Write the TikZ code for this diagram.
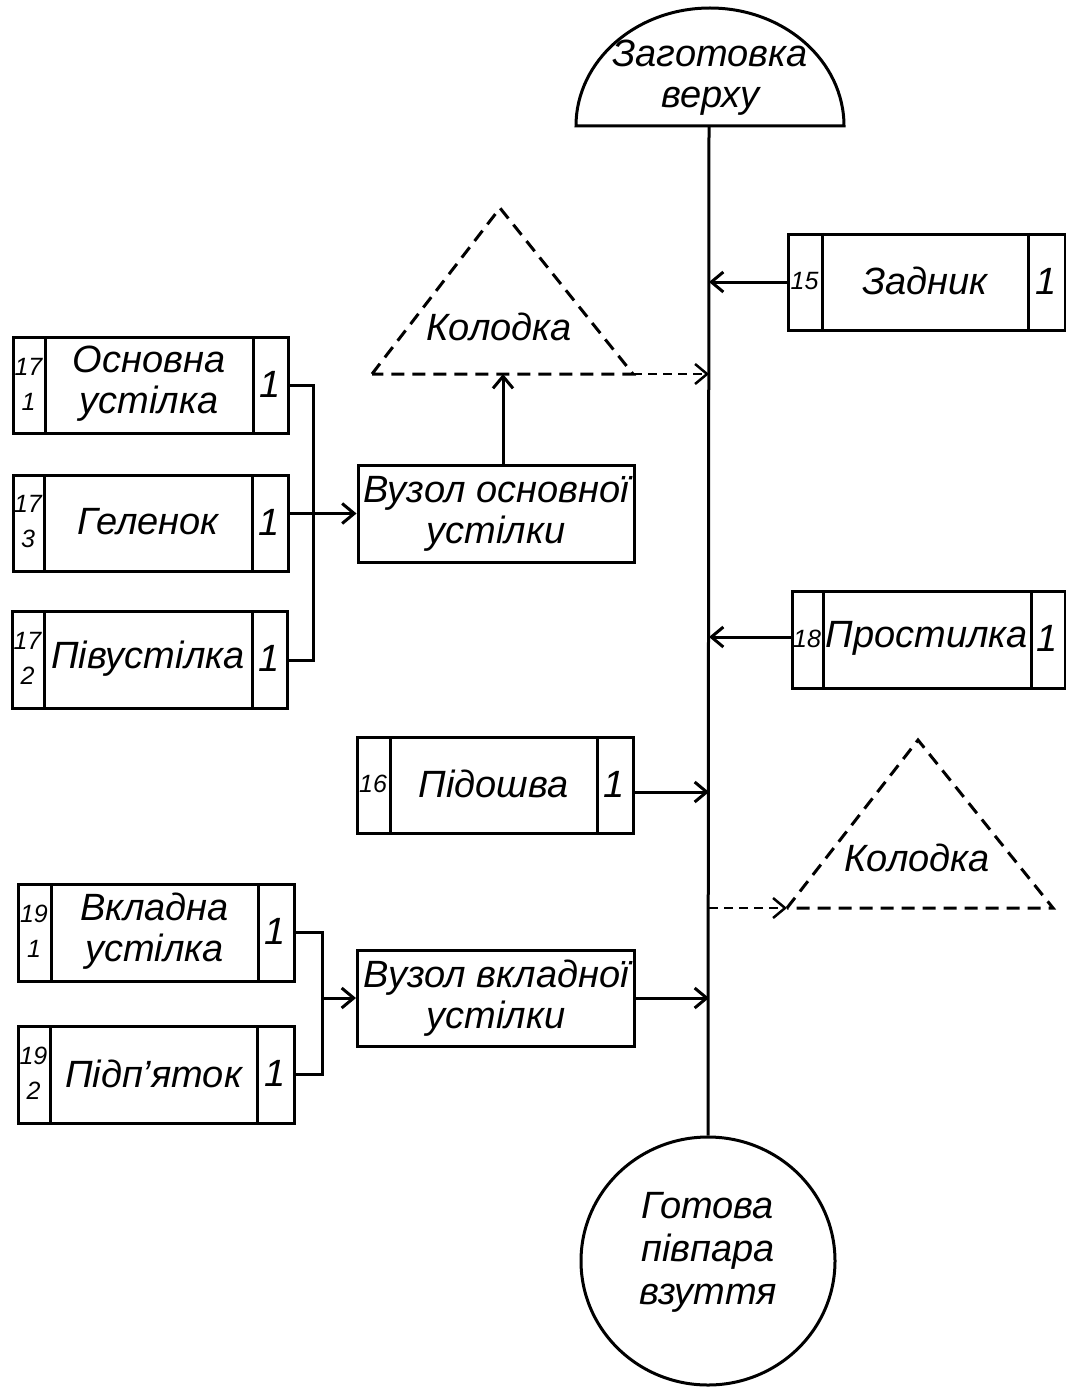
\documentclass[tikz,border=0pt]{standalone}
\usepackage{fontspec}
\setmainfont{Liberation Sans}
\usetikzlibrary{arrows.meta,shapes.geometric}
\newcommand\partbox[9]{%
  \pgfmathsetmacro\pbW{#4-#2}\pgfmathsetmacro\pbH{#5-#3}%
  \node[pbox, minimum width=\pbW pt, minimum height=\pbH pt, anchor=north west] (#1) at (#2,#3) {};
  \draw[ln] (#6,#3) -- (#6,#5) (#7,#3) -- (#7,#5);
  \node[numtxt] (#1-n) at ({(#2+#6)/2},{(#3+#5)/2}) {#8};
  \node[maintxt] (#1-t) at ({(#6+#7)/2},{(#3+#5)/2}) {#9};
  \node[onetxt] (#1-q) at ({(#7+#4)/2},{(#3+#5)/2}) {1};
}
\begin{document}
\begin{tikzpicture}[x=1pt,y=-1pt,
  ln/.style={line width=3pt},
  pbox/.style={draw, rectangle, line width=3pt, inner sep=0pt},
  maintxt/.style={font=\fontsize{38}{41}\selectfont\itshape, align=center, inner sep=0pt},
  numtxt/.style={font=\fontsize{25}{35}\selectfont\itshape, align=center, inner sep=0pt},
  onetxt/.style={font=\fontsize{38}{40}\selectfont\itshape, inner sep=0pt},
  arr/.style={line width=3pt, -{Straight Barb[length=12pt,width=20pt,line width=3pt]}},
  darr/.style={line width=2pt, dash pattern=on 9pt off 6pt, -{Straight Barb[length=12pt,width=20pt,line width=2.5pt]}},
  tri/.style={line width=3pt, dash pattern=on 13pt off 8pt}
]
\useasboundingbox (0,0) rectangle (1065,1388);
% axis
\coordinate (axis) at (709,0);
\coordinate (topbase) at (709,126);
% top semicircle
\draw[ln] (576,126) arc[start angle=180, end angle=0, x radius=134pt, y radius=118pt] -- cycle;
\node[maintxt] (top) at (710,78) {Заготовка\\верху};
% bottom circle
\node[draw, ellipse, line width=3pt, minimum width=254pt, minimum height=248pt, inner sep=0pt] (bot) at (708,1261) {};
\node[maintxt, font=\fontsize{38}{43}\selectfont\itshape] (bott) at (708,1252) {Готова\\півпара\\взуття};
\draw[ln] (topbase) -- (bot.north);
% left group 1
\partbox{b1}{12}{336}{287}{432}{45}{253}{17\\1}{Основна\\устілка}
\partbox{b2}{12}{474}{287}{570}{44}{252}{17\\3}{Геленок}
\partbox{b3}{11}{610}{286}{707}{44}{252}{17\\2}{Півустілка}
\node[pbox, minimum width=276pt, minimum height=97pt] (v1) at (496,513.5) {};
\node[maintxt] (v1t) at (496,513.5) {Вузол основної\\устілки};
\draw[ln] (b1.east |- 0,385) -- (313,385) |- (b3.east |- 0,660);
\draw[arr] (b2.east |- v1.west) -- (v1.west);
% Kolodka 1
\coordinate (k1l) at (372,374);
\coordinate (k1a) at (500,208);
\coordinate (k1r) at (633,374);
\coordinate (k1b) at (503,374);
\draw[tri] (k1l) -- (k1a) -- (k1r) -- cycle;
\node[maintxt] (k1t) at (499,327) {Колодка};
\draw[arr] (k1b |- v1.north) -- (k1b);
\draw[darr] (k1r) -- (axis |- k1r);
% right boxes
\partbox{b4}{787}{233}{1064}{329}{822}{1028}{15}{Задник}
\draw[arr] (b4.west |- 0,282) -- (axis |- 0,282);
\partbox{b5}{791}{590}{1064}{687}{823}{1031}{18}{Простилка}
\draw[arr] (b5.west |- 0,637) -- (axis |- 0,637);
% sole
\partbox{b6}{356}{736}{632}{832}{390}{597}{16}{Підошва}
\draw[arr] (b6.east |- 0,792) -- (axis |- 0,792);
% Kolodka 2
\coordinate (k2l) at (787,908);
\coordinate (k2a) at (918,740);
\coordinate (k2r) at (1053,908);
\draw[tri] (k2l) -- (k2a) -- (k2r) -- cycle;
\node[maintxt] (k2t) at (917,858) {Колодка};
\draw[darr] (axis |- k2l) -- (k2l);
% left group 2
\partbox{b7}{17}{883}{293}{980}{51}{258}{19\\1}{Вкладна\\устілка}
\partbox{b8}{17}{1025}{293}{1122}{50}{257}{19\\2}{Підп’яток}
\node[pbox, minimum width=277pt, minimum height=96pt] (v2) at (496,998) {};
\node[maintxt] (v2t) at (496,998) {Вузол вкладної\\устілки};
\draw[ln] (b7.east |- 0,932) -- (322,932) |- (b8.east |- 0,1074);
\draw[arr] (322,998) -- (v2.west);
\draw[arr] (v2.east) -- (axis |- v2.east);
\end{tikzpicture}
\end{document}
